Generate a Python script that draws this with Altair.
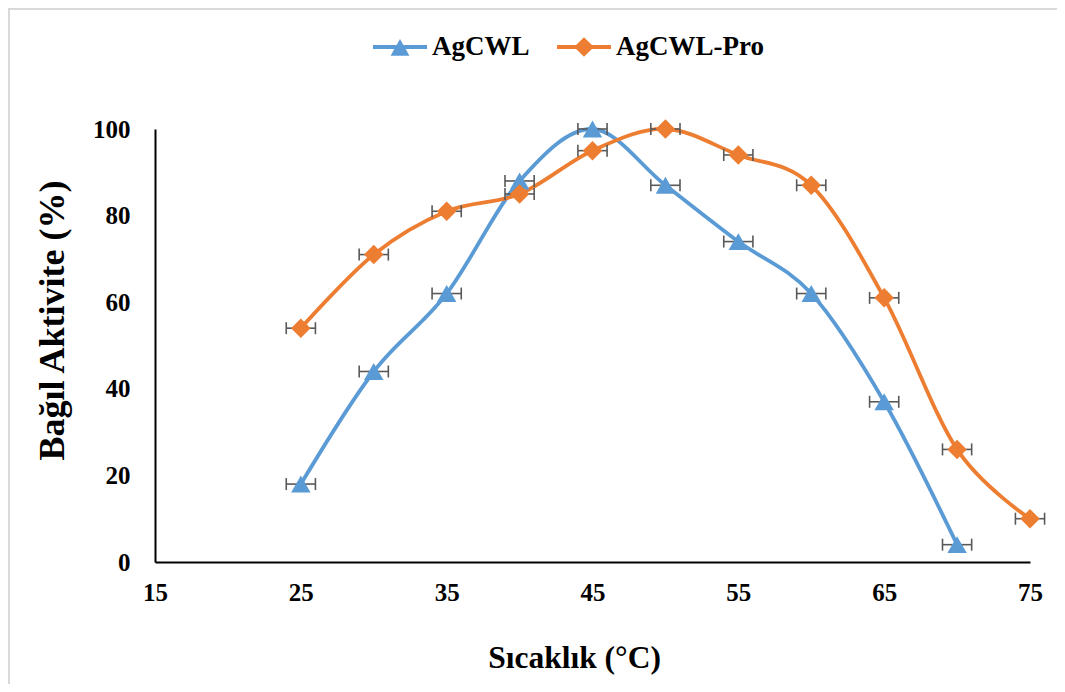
import altair as alt
import pandas as pd

series_names = ["AgCWL", "AgCWL-Pro"]
series_colors = ["#5B9BD5", "#ED7D31"]

temp_a = [25, 30, 35, 40, 45, 50, 55, 60, 65, 70]
act_a = [18, 44, 62, 88, 100, 87, 74, 62, 37, 4]
err_a = [1, 1, 1, 1, 1, 1, 1, 1, 1, 1]

temp_p = [25, 30, 35, 40, 45, 50, 55, 60, 65, 70, 75]
act_p = [54, 71, 81, 85, 95, 100, 94, 87, 61, 26, 10]
err_p = [1, 1, 1, 1, 1, 1, 1, 1, 1, 1, 1]

x_ticks = [15, 25, 35, 45, 55, 65, 75]
y_ticks = [0, 20, 40, 60, 80, 100]

X_TITLE = "Sıcaklık (°C)"
Y_TITLE = "Bağıl Aktivite (%)"
FONT = "Liberation Serif"


def make_df(name, temps, acts, errs):
    return pd.DataFrame({
        "series": name,
        "temp": temps,
        "act": acts,
        "lo": [t - e for t, e in zip(temps, errs)],
        "hi": [t + e for t, e in zip(temps, errs)],
    })


df_a = make_df(series_names[0], temp_a, act_a, err_a)
df_p = make_df(series_names[1], temp_p, act_p, err_p)
df_all = pd.concat([df_a, df_p], ignore_index=True)

x_scale = alt.Scale(domain=[15, 75], nice=False, zero=False)
y_scale = alt.Scale(domain=[0, 100], nice=False)

x_axis = alt.Axis(values=x_ticks, ticks=False, grid=False, domainColor="black",
                  domainWidth=2, labelFont=FONT, labelFontSize=25, labelFontWeight="bold",
                  labelColor="black", labelPadding=18, labelFlush=False, labelOverlap=False,
                  titleFont=FONT, titleFontSize=31.5, titleFontWeight="bold", titleColor="black",
                  titleX=419, titleY=80, titleAlign="center", titleBaseline="top")
y_axis = alt.Axis(values=y_ticks, ticks=False, grid=False, domainColor="black",
                  domainWidth=2, labelFont=FONT, labelFontSize=25, labelFontWeight="bold",
                  labelColor="black", labelPadding=25, labelFlush=False, labelOverlap=False,
                  titleFont=FONT, titleFontSize=36, titleFontWeight="bold", titleColor="black",
                  titleX=-84, titleY=191, titleAlign="center", titleBaseline="bottom")


def X(field):
    return alt.X(field, type="quantitative", scale=x_scale, axis=x_axis, title=X_TITLE)


def Y(field):
    return alt.Y(field, type="quantitative", scale=y_scale, axis=y_axis, title=Y_TITLE)


def line_layer(df, color):
    return alt.Chart(df).mark_line(interpolate="cardinal", tension=0, color=color,
                                   strokeWidth=3.8).encode(x=X("temp"), y=Y("act"))


def err_layers(df):
    rule = alt.Chart(df).mark_rule(color="#595959", strokeWidth=1.6).encode(
        x=X("lo"), x2="hi:Q", y=Y("act"))
    cap_lo = alt.Chart(df).mark_tick(orient="vertical", size=12, thickness=1.6,
                                     color="#595959", opacity=1).encode(x=X("lo"), y=Y("act"))
    cap_hi = alt.Chart(df).mark_tick(orient="vertical", size=12, thickness=1.6,
                                     color="#595959", opacity=1).encode(x=X("hi"), y=Y("act"))
    return [rule, cap_lo, cap_hi]


def point_layer(df, color, shape, size):
    return alt.Chart(df).mark_point(filled=True, shape=shape, size=size, color=color,
                                    opacity=1, strokeWidth=0).encode(x=X("temp"), y=Y("act"))


tri_path = "M-1,-0.07H1V0.07H-1Z M-0.35,0.32L0,-0.3L0.35,0.32Z"
dia_path = "M-1,-0.07H1V0.07H-1Z M-0.37,0L0,-0.36L0.37,0L0,0.36Z"

legend = alt.Legend(orient="none", legendX=218, legendY=-109, direction="horizontal",
                    title=None, symbolSize=2916, symbolOpacity=1, symbolStrokeWidth=0,
                    labelFont=FONT, labelFontSize=27, labelFontWeight="bold",
                    labelColor="black", labelOffset=5, columnPadding=27, padding=0)

legend_layer = alt.Chart(df_all).transform_filter(alt.datum.act < 0).mark_point(
    filled=True, opacity=1).encode(
    x=X("temp"),
    y=Y("act"),
    color=alt.Color("series:N", scale=alt.Scale(domain=series_names, range=series_colors),
                    legend=legend),
    shape=alt.Shape("series:N", scale=alt.Scale(domain=series_names, range=[tri_path, dia_path]),
                    legend=legend),
)

# light grey chart-area frame (decoration, drawn in pixel space)
frame_df = pd.DataFrame({"frame": [0]})
frame_left = alt.Chart(frame_df).mark_rule(color="#d9d9d9", strokeWidth=2).encode(
    x=alt.value(-146), y=alt.value(-120), y2=alt.value(560))
frame_top = alt.Chart(frame_df).mark_rule(color="#d9d9d9", strokeWidth=2).encode(
    x=alt.value(-147), x2=alt.value(905), y=alt.value(-120))

layers = [frame_left, frame_top,
          line_layer(df_a, series_colors[0]), line_layer(df_p, series_colors[1])]
layers += err_layers(df_a) + err_layers(df_p)
layers += [point_layer(df_a, series_colors[0], "triangle-up", 380),
           point_layer(df_p, series_colors[1], "diamond", 380),
           legend_layer]

chart = alt.layer(*layers).properties(
    width=875, height=433,
    autosize=alt.AutoSizeParams(type="none"),
    padding={"left": 147, "top": 121, "right": 27, "bottom": 122},
    background="white",
).configure_view(stroke=None)

chart.save("out.html", embed_options={"renderer": "svg", "actions": False})
